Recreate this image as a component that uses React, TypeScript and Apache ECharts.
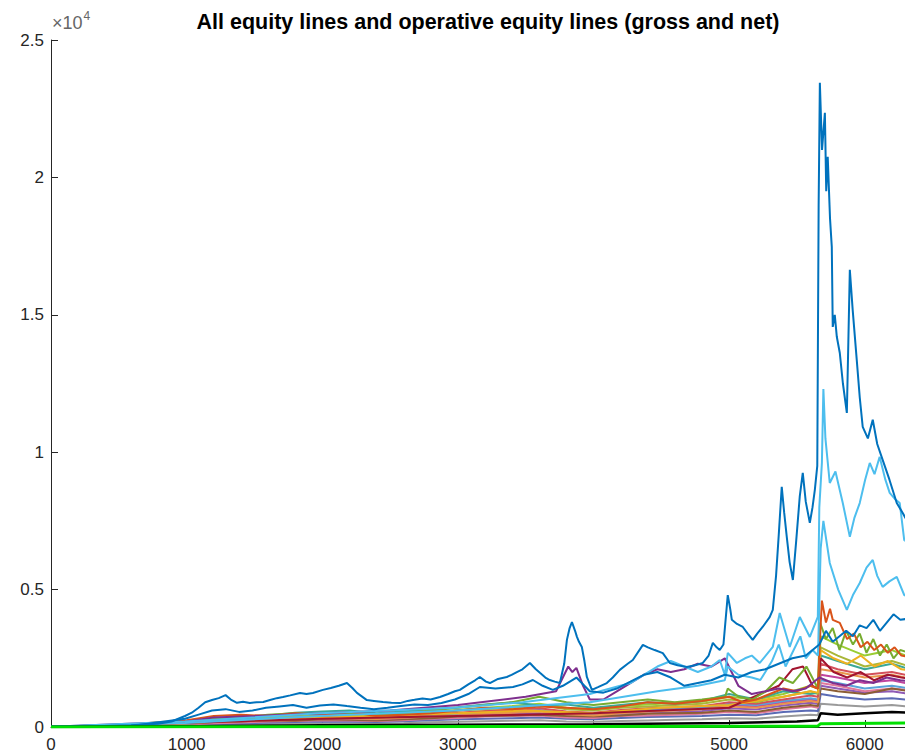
import React, { useEffect, useRef } from "react";
import * as echarts from "echarts";

// Shared x grid for the dense band of lower equity lines
const xsBand = [0, 200, 400, 600, 800, 1000, 1200, 1400, 1600, 1800, 2000, 2200, 2400, 2600, 2800, 3000, 3200, 3400, 3600, 3800, 4000, 4200, 4400, 4600, 4800, 5000, 5200, 5400, 5600, 5655, 5675, 5800, 6000, 6200, 6400];

const bandTeal = [0, 0, 5, 20, 120, 200, 260, 300, 420, 520, 560, 600, 500, 560, 650, 720, 820, 900, 780, 820, 700, 800, 900, 850, 950, 1200, 1000, 1300, 1200, 1250, 2600, 2400, 2100, 2300, 2000];
const bandMagenta = [0, 0, 3, 15, 80, 150, 200, 260, 300, 350, 320, 300, 280, 330, 400, 450, 500, 520, 600, 480, 450, 550, 600, 650, 700, 800, 750, 900, 1000, 950, 1900, 1800, 1600, 1700, 1500];
const bandBrown = [0, 0, 2, 10, 60, 120, 180, 200, 250, 230, 280, 260, 240, 280, 320, 380, 400, 420, 450, 400, 380, 420, 480, 500, 520, 600, 550, 700, 800, 760, 1400, 1300, 1200, 1400, 1250];
const bandOlive = [0, 0, 4, 25, 100, 180, 250, 280, 350, 400, 450, 420, 380, 450, 500, 600, 650, 700, 800, 650, 600, 700, 750, 800, 850, 1000, 900, 1100, 1300, 1200, 2900, 2600, 2200, 2400, 2100];
const bandPink = [0, 0, 2, 8, 40, 90, 130, 160, 200, 220, 250, 240, 220, 250, 300, 330, 380, 400, 420, 350, 330, 400, 420, 450, 480, 550, 500, 650, 750, 700, 1600, 1500, 1300, 1400, 1300];
const bandSlate = [0, 0, 1, 5, 30, 70, 100, 130, 160, 180, 200, 190, 180, 210, 250, 280, 300, 320, 350, 300, 280, 330, 360, 380, 400, 450, 430, 550, 600, 580, 1200, 1100, 1000, 1050, 950];
const bandGray = [0, 0, 1, 3, 20, 50, 70, 90, 110, 130, 140, 130, 120, 140, 170, 190, 210, 230, 250, 200, 190, 220, 240, 260, 280, 320, 300, 380, 450, 430, 850, 800, 750, 800, 700];
const bandLightOrange = [0, 0, 3, 12, 70, 140, 190, 220, 260, 300, 330, 310, 290, 340, 380, 420, 480, 520, 560, 460, 420, 500, 560, 600, 650, 750, 700, 850, 950, 900, 2100, 2000, 1800, 1900, 1700];
const bandRose = [0, 0, 3, 18, 90, 170, 230, 280, 330, 380, 400, 380, 350, 400, 460, 520, 580, 620, 680, 560, 520, 620, 680, 720, 760, 900, 850, 1000, 1150, 1100, 2300, 2100, 1900, 2000, 1800];
const bandSky = [0, 0, 2, 12, 60, 130, 180, 230, 280, 330, 360, 340, 320, 370, 430, 480, 540, 580, 620, 520, 480, 560, 620, 660, 700, 850, 800, 950, 1050, 1000, 1700, 1600, 1400, 1500, 1350];
const bandLime = [0, 0, 4, 30, 130, 220, 280, 320, 380, 450, 480, 460, 420, 470, 540, 620, 700, 760, 850, 700, 650, 760, 820, 880, 920, 1100, 1000, 1200, 1500, 1400, 3300, 3000, 2600, 2800, 2400];
const bandViolet = [0, 0, 2, 10, 50, 110, 160, 190, 230, 260, 290, 270, 250, 290, 340, 380, 430, 460, 500, 420, 400, 460, 500, 540, 580, 680, 640, 780, 880, 840, 1500, 1400, 1250, 1300, 1150];

// Individual equity lines as [step, equity] pairs
const lineOrange: [number, number][] = [[0, 10], [500, 30], [800, 150], [1000, 250], [1200, 400], [1400, 450], [1600, 400], [1800, 500], [2000, 450], [2200, 550], [2400, 400], [2600, 450], [2800, 500], [3000, 600], [3200, 700], [3400, 650], [3600, 750], [3800, 700], [4000, 650], [4200, 750], [4400, 900], [4600, 850], [4800, 950], [5000, 1100], [5100, 900], [5200, 1000], [5300, 1200], [5400, 1400], [5500, 1300], [5600, 1500], [5655, 1400], [5668, 3000], [5684, 4600], [5714, 3800], [5744, 4300], [5764, 3900], [5816, 3790], [5870, 3200], [5920, 3400], [5970, 2900], [6020, 3100], [6070, 2800], [6120, 3000], [6170, 2700], [6220, 2900], [6270, 2600], [6400, 2500]];

const lineYellow: [number, number][] = [[0, 5], [1000, 150], [1500, 250], [2000, 350], [2500, 420], [3000, 500], [3500, 600], [4000, 500], [4500, 700], [5000, 800], [5400, 1100], [5600, 1300], [5655, 1250], [5675, 2800], [5770, 2500], [5870, 2300], [5970, 2600], [6070, 2200], [6170, 2400], [6270, 2100], [6400, 2000]];

const lineGreen: [number, number][] = [[0, 10], [600, 80], [800, 180], [1000, 200], [1200, 300], [1400, 350], [1600, 450], [1800, 500], [2000, 450], [2200, 500], [2400, 450], [2600, 500], [2800, 600], [3000, 700], [3200, 800], [3400, 900], [3600, 1100], [3800, 900], [4000, 800], [4200, 900], [4400, 1000], [4600, 900], [4800, 1000], [4970, 1100], [4990, 1400], [5070, 1100], [5170, 1000], [5270, 1300], [5370, 1800], [5470, 1600], [5570, 2200], [5655, 1400], [5670, 3800], [5714, 3200], [5764, 3600], [5814, 2800], [5863, 3500], [5913, 3000], [5963, 3400], [6013, 2700], [6063, 3200], [6112, 2600], [6162, 3000], [6212, 2500], [6262, 2800], [6400, 2600]];

const lineRed: [number, number][] = [[0, 5], [1000, 150], [2000, 300], [3000, 400], [4000, 500], [5000, 700], [5366, 1500], [5466, 2100], [5545, 2200], [5615, 1500], [5655, 1400], [5675, 2500], [5770, 2000], [5870, 1800], [5970, 2000], [6070, 1700], [6170, 1900], [6270, 1800], [6400, 1700]];

const linePurple: [number, number][] = [[0, 10], [1000, 200], [1200, 350], [1500, 400], [2000, 500], [2500, 600], [3000, 800], [3500, 1100], [3724, 1300], [3774, 1800], [3814, 2200], [3844, 2000], [3874, 2150], [3923, 1500], [3973, 1000], [4073, 1000], [4172, 1300], [4272, 1600], [4371, 1900], [4471, 2100], [4570, 2000], [4670, 2100], [4769, 2300], [4869, 2200], [4968, 2500], [5018, 2000], [5068, 1500], [5167, 1200], [5267, 1300], [5366, 1400], [5466, 1300], [5565, 1400], [5665, 1800], [5764, 1600], [5863, 1500], [5963, 1700], [6063, 1600], [6162, 1800], [6262, 1700], [6400, 1650]];

const lineCyanLow: [number, number][] = [[0, 10], [988, 150], [1983, 400], [2978, 600], [3973, 900], [4471, 1300], [4769, 1500], [4968, 1700], [4990, 2200], [5068, 1900], [5167, 1800], [5230, 1710], [5267, 2000], [5316, 2400], [5366, 3000], [5416, 2200], [5466, 2700], [5525, 3300], [5565, 2500], [5615, 2800], [5655, 2600], [5675, 6500], [5695, 7500], [5742, 5970], [5804, 5000], [5868, 4260], [5913, 4800], [5963, 5240], [6013, 5800], [6059, 6080], [6092, 5500], [6132, 5100], [6182, 5300], [6236, 5460], [6291, 4800], [6400, 4600]];

const lineCyanHigh: [number, number][] = [[0, 10], [988, 200], [1983, 500], [2978, 700], [3476, 900], [3973, 1200], [4272, 1600], [4471, 2200], [4570, 2400], [4670, 2200], [4769, 2000], [4869, 2200], [4931, 2440], [4968, 1900], [4990, 2700], [5057, 2330], [5117, 2500], [5167, 2600], [5226, 2330], [5322, 2912], [5373, 4150], [5447, 2912], [5521, 4004], [5595, 3276], [5654, 4004], [5665, 8000], [5684, 9610], [5695, 12300], [5710, 10500], [5742, 8880], [5784, 9300], [5838, 8150], [5890, 6920], [5923, 7600], [5963, 8150], [6003, 9000], [6037, 9610], [6072, 9200], [6110, 9830], [6152, 9000], [6184, 8520], [6222, 8300], [6258, 8150], [6291, 6800], [6400, 6500]];

const lineBlueLow: [number, number][] = [[0, 10], [590, 40], [988, 300], [1088, 450], [1187, 600], [1287, 650], [1386, 550], [1486, 600], [1585, 700], [1685, 750], [1784, 800], [1884, 700], [1983, 780], [2083, 820], [2182, 760], [2282, 700], [2381, 650], [2481, 700], [2580, 760], [2680, 820], [2779, 800], [2879, 874], [2978, 1000], [3077, 1200], [3162, 1456], [3277, 1400], [3406, 1456], [3476, 1550], [3553, 1710], [3625, 1500], [3700, 1350], [3774, 1500], [3874, 1800], [3933, 1500], [3973, 1300], [4073, 1250], [4172, 1400], [4272, 1650], [4371, 1900], [4471, 2000], [4570, 1800], [4670, 1500], [4769, 1600], [4869, 1700], [4968, 1900], [5068, 1800], [5167, 2000], [5267, 2100], [5366, 2300], [5466, 2500], [5565, 2600], [5665, 3000], [5714, 3500], [5764, 3100], [5814, 3300], [5863, 3500], [5913, 3300], [5963, 3700], [6013, 3600], [6063, 3900], [6112, 3500], [6162, 3800], [6212, 4100], [6262, 3900], [6400, 4000]];

const lineBlueTop: [number, number][] = [[0, 20], [192, 30], [391, 40], [590, 60], [789, 120], [889, 200], [988, 400], [1038, 520], [1088, 700], [1137, 900], [1187, 980], [1237, 1050], [1287, 1160], [1326, 1000], [1371, 880], [1416, 920], [1466, 870], [1515, 900], [1565, 910], [1615, 980], [1665, 1050], [1710, 1090], [1764, 1150], [1836, 1240], [1884, 1200], [1931, 1240], [2005, 1350], [2063, 1420], [2122, 1500], [2182, 1600], [2222, 1420], [2256, 1240], [2329, 980], [2381, 950], [2448, 910], [2510, 880], [2573, 870], [2630, 950], [2680, 990], [2739, 1040], [2799, 1000], [2868, 1090], [2928, 1200], [2978, 1300], [3015, 1350], [3077, 1550], [3127, 1700], [3162, 1820], [3207, 1650], [3236, 1600], [3296, 1750], [3361, 1820], [3396, 1900], [3435, 2000], [3476, 2100], [3531, 2330], [3575, 2100], [3605, 1970], [3645, 1800], [3678, 1710], [3714, 1650], [3752, 1600], [3784, 2300], [3804, 3170], [3824, 3600], [3841, 3820], [3864, 3500], [3878, 3280], [3893, 3100], [3914, 2910], [3933, 2400], [3951, 1820], [3988, 1350], [4033, 1450], [4098, 1600], [4142, 1800], [4194, 2080], [4252, 2300], [4290, 2440], [4364, 2990], [4401, 2900], [4451, 2800], [4511, 2690], [4563, 2330], [4620, 2250], [4688, 2180], [4749, 2250], [4806, 2330], [4849, 2600], [4880, 3060], [4908, 2900], [4931, 2800], [4958, 3000], [4990, 4800], [5008, 4300], [5020, 3900], [5058, 3750], [5101, 3640], [5137, 3400], [5174, 3170], [5207, 3400], [5247, 3640], [5299, 4000], [5322, 4260], [5346, 5500], [5366, 7000], [5388, 8740], [5406, 7800], [5425, 6920], [5446, 6000], [5470, 5350], [5495, 6800], [5521, 8400], [5543, 9250], [5565, 8200], [5595, 7430], [5615, 8000], [5632, 8630], [5650, 9500], [5660, 19000], [5669, 23440], [5685, 21000], [5706, 22350], [5716, 19500], [5727, 20750], [5744, 18500], [5757, 17470], [5764, 14560], [5779, 15000], [5794, 14200], [5816, 13610], [5839, 12500], [5868, 11430], [5879, 14000], [5890, 16640], [5911, 15180], [5941, 13360], [5963, 12000], [5985, 10920], [6023, 10500], [6059, 11180], [6092, 10300], [6132, 9720], [6182, 9000], [6236, 8150], [6280, 7790], [6301, 7600], [6361, 7300], [6400, 7200]];

const lineBlack: [number, number][] = [[0, 0], [1000, 30], [2000, 60], [3000, 80], [4000, 100], [5000, 150], [5500, 200], [5655, 250], [5675, 500], [5800, 450], [6000, 500], [6200, 550], [6400, 500]];

const lineBrightGreen: [number, number][] = [[0, 0], [2000, 10], [4000, 20], [5600, 30], [5655, 40], [5675, 120], [6400, 150]];

const yTickLabels = ["0", "0.5", "1", "1.5", "2", "2.5"];

const band = (vals: number[]) => xsBand.map((x, i) => [x, vals[i]]);

export default function App() {
  const ref = useRef<HTMLDivElement>(null);

  useEffect(() => {
    if (!ref.current) return;
    const chart = echarts.init(ref.current, undefined, { renderer: "svg" });

    const mk = (data: number[][], color: string, width = 2) => ({
      type: "line",
      data,
      symbol: "none",
      silent: true,
      lineStyle: { color, width },
    });

    const series = [
      mk(band(bandGray), "#9A9A9A"),
      mk(band(bandSlate), "#5B6BB5"),
      mk(band(bandViolet), "#8E5AB5"),
      mk(band(bandPink), "#E0789A"),
      mk(band(bandBrown), "#8C5E34"),
      mk(band(bandMagenta), "#C0449E"),
      mk(band(bandSky), "#5BA3D9"),
      mk(band(bandLightOrange), "#E8944A"),
      mk(band(bandRose), "#D4505A"),
      mk(band(bandOlive), "#A9B638"),
      mk(band(bandLime), "#9ACD32"),
      mk(band(bandTeal), "#3AA896"),
      mk(lineYellow, "#EDB120"),
      mk(lineRed, "#A2142F"),
      mk(lineGreen, "#77AC30"),
      mk(lineOrange, "#D95319"),
      mk(linePurple, "#7E2F8E"),
      mk(lineCyanLow, "#4DBEEE"),
      mk(lineCyanHigh, "#4DBEEE"),
      mk(lineBlueLow, "#0072BD"),
      mk(lineBlueTop, "#0072BD"),
      mk(lineBlack, "#000000", 2.5),
      mk(lineBrightGreen, "#00E000", 3),
    ];

    chart.setOption({
      animation: false,
      backgroundColor: "#ffffff",
      title: {
        text: "All equity lines and operative equity lines (gross and net)",
        left: 483,
        top: 6,
        textAlign: "center",
        textStyle: {
          fontFamily: "Liberation Sans",
          fontWeight: "bold",
          fontSize: 21.5,
          color: "#000000",
        },
      },
      // The axes run past the right edge of the canvas, so layout must not shrink them
      grid: { left: 51, top: 40, height: 687, width: 868, outerBoundsMode: "none", containLabel: false },
      xAxis: {
        type: "value",
        min: 0,
        max: 6400,
        interval: 1000,
        axisLine: { lineStyle: { color: "#262626", width: 1 } },
        axisTick: { inside: true, length: 7, lineStyle: { color: "#262626" } },
        axisLabel: {
          margin: 9,
          fontFamily: "Liberation Sans",
          fontSize: 17,
          color: "#262626",
          showMaxLabel: false,
          formatter: (v: number) => String(v),
        },
        splitLine: { show: false },
      },
      yAxis: {
        type: "value",
        min: 0,
        max: 25000,
        interval: 5000,
        axisLine: { show: true, lineStyle: { color: "#262626", width: 1 } },
        axisTick: { show: true, inside: true, length: 7, lineStyle: { color: "#262626" } },
        axisLabel: {
          margin: 7,
          fontFamily: "Liberation Sans",
          fontSize: 17,
          color: "#262626",
          formatter: (v: number) => yTickLabels[Math.round(v / 5000)],
        },
        splitLine: { show: false },
      },
      graphic: [
        {
          type: "text",
          left: 52,
          top: 10,
          style: {
            text: "{a|×10}{b|4}",
            rich: {
              a: { fontFamily: "Liberation Sans", fontSize: 18, fill: "#666666", verticalAlign: "bottom" },
              b: { fontFamily: "Liberation Sans", fontSize: 12, fill: "#666666", verticalAlign: "top", padding: [0, 0, 10, 1] },
            },
          },
        },
      ],
      series,
    });

    return () => chart.dispose();
  }, []);

  return (
    <div
      ref={ref}
      style={{ position: "fixed", left: 0, top: 0, width: 905, height: 756, background: "#fff" }}
    />
  );
}
